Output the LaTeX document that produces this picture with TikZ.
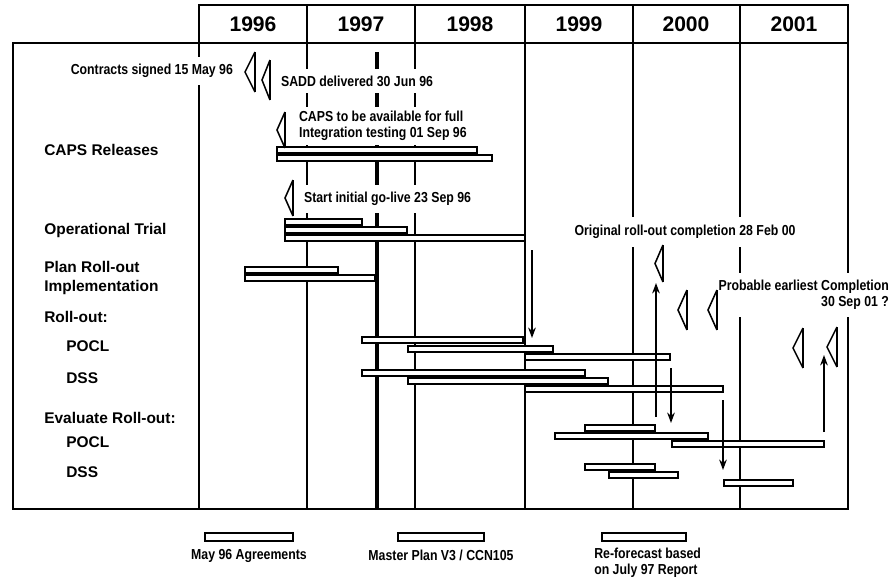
\documentclass[tikz,border=0pt]{standalone}
\usepackage{fontspec}
\setmainfont{Liberation Sans}
\newfontfamily\annfont[FakeStretch=0.85]{Liberation Sans}
\usetikzlibrary{arrows.meta,positioning}

\begin{document}
\begin{tikzpicture}[x=0.025cm, y=-0.025cm,
    line width=1.8pt, >={Stealth[length=2.6mm,width=1.9mm]},
    year/.style={font=\fontsize{15}{18}\selectfont\bfseries},
    task/.style={font=\fontsize{11}{13.5}\selectfont\bfseries, anchor=west, align=left, inner sep=0pt},
    note/.style={font=\annfont\bfseries\fontsize{10.3}{11.5}\selectfont, fill=white, inner xsep=2pt, inner ysep=5pt},
    key/.style={font=\annfont\bfseries\fontsize{10.3}{11.5}\selectfont, inner sep=0pt, align=left},
    bar/.style={draw, fill=white, line width=1.4pt},
    legbar/.style={draw, fill=white, line width=1.4pt, minimum height=0.2cm, inner sep=0pt},
    flow/.style={->, line width=1.4pt}]
  % fixed 896 x 579 px canvas
  \path[use as bounding box] (0,0) rectangle (896,579);

  % ================= frame and year columns =================
  \draw (199,5) rectangle (848,43);
  \foreach \x in {307,415,525,633,740} {
    \draw (\x,5) -- (\x,43);
  }
  \foreach \yr/\x in {1996/253, 1997/361, 1998/470, 1999/579, 2000/686, 2001/794} {
    \node[year] (y\yr) at (\x,24) {\yr};
  }
  \draw (13,43) rectangle (848,509);
  \foreach \x in {199,307,415,525,633,740} {
    \draw (\x,43) -- (\x,509);
  }
  \draw[line width=3pt] (377,52) -- (377,509);

  % ================= task labels =================
  \node[task] (caps) at (43,150) {CAPS Releases};
  \node[task] (trial) at (43,230) {Operational Trial};
  \node[task] (plan) at (43,278) {Plan Roll-out\\Implementation};
  \node[task] (roll) at (43,317) {Roll-out:};
  \node[task] (rpocl) at (65,346) {POCL};
  \node[task] (rdss) at (65,378) {DSS};
  \node[task] (eval) at (43,418) {Evaluate Roll-out:};
  \node[task] (epocl) at (65,442) {POCL};
  \node[task] (edss) at (65,472) {DSS};

  % ================= milestone notes (white fill breaks the grid lines) =================
  \node[note, anchor=east] (signed) at (237,71) {Contracts signed 15 May 96};
  \node[note, anchor=west] (sadd) at (277,81) {SADD delivered 30 Jun 96};
  \node[note, anchor=west, align=left, inner ysep=3pt] (avail) at (295,126)
    {CAPS to be available for full\\Integration testing 01 Sep 96};
  \node[note, anchor=west] (golive) at (300,199) {Start initial go-live 23 Sep 96};
  \node[note, inner ysep=6pt] (orig) at (685,232) {Original roll-out completion 28 Feb 00};
  \node[note, anchor=east, align=right] (prob) at (893,295)
    {Probable earliest Completion\\30 Sep 01 ?};

  % ================= bars: start / end / row =================
  \foreach \xa/\xb/\y in {277/477/150, 277/492/158,
      285/362/222, 285/407/230, 285/525/238,
      245/338/270, 245/375/278,
      362/523/340, 408/553/349, 525/670/357,
      362/585/373, 408/608/381, 525/723/389,
      585/655/428, 555/708/436, 672/824/444,
      585/655/467, 609/678/475, 724/793/483} {
    \draw[bar] (\xa,\y-3) rectangle (\xb,\y+3);
  }

  % ================= milestone markers =================
  \foreach \xl/\xr/\yt/\yb in {245/255/52/92, 262/270/60/100, 277/285/112/148,
      285/293/180/216, 655/663/245/282, 678/687/290/330, 708/717/290/330,
      793/803/328/368, 827/837/327/367} {
    \draw[line width=1.1pt] (\xr,\yt) -- (\xl,{(\yt+\yb)/2}) -- (\xr,\yb);
    \draw[line width=2pt] (\xr,\yt) -- (\xr,\yb);
  }

  % ================= slip arrows =================
  \coordinate (s1) at (532,250); \coordinate (e1) at (532,338);
  \coordinate (s2) at (656,417); \coordinate (e2) at (656,283);
  \coordinate (s3) at (671,368); \coordinate (e3) at (671,423);
  \coordinate (s4) at (723,400); \coordinate (e4) at (723,470);
  \coordinate (s5) at (824,432); \coordinate (e5) at (824,355);
  \foreach \i in {1,...,5} {
    \draw[flow] (s\i) -- (e\i);
  }

  % ================= legend =================
  \node[legbar, minimum width=2.2cm] (lagree) at (249,537) {};
  \node[legbar, minimum width=2.15cm] (lplan) at (441,537) {};
  \node[legbar, minimum width=2.1cm] (lfore) at (644,537) {};
  \node[key, below=0.16cm of lagree] {May 96 Agreements};
  \node[key, below=0.16cm of lplan] {Master Plan V3 / CCN105};
  \node[key, anchor=north west] at (593,547) {Re-forecast based\\on July 97 Report};
\end{tikzpicture}
\end{document}
